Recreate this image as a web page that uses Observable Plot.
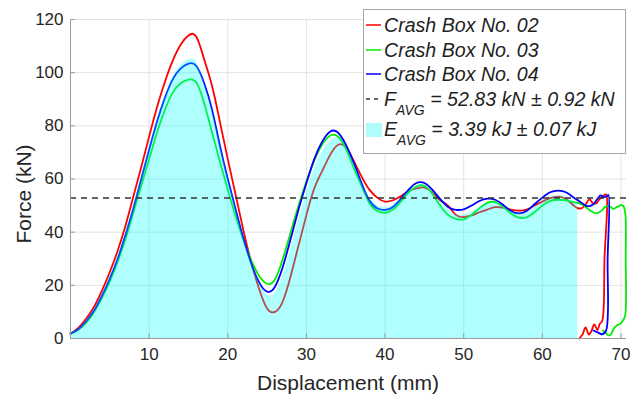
<!DOCTYPE html>
<html><head><meta charset="utf-8">
<script src="https://cdn.jsdelivr.net/npm/d3@7"></script>
<script src="https://cdn.jsdelivr.net/npm/@observablehq/plot@0.6"></script>
<style>
body{margin:0;background:#fff;}
#wrap{position:relative;width:634px;height:398px;font-family:"Liberation Sans",Arial,sans-serif;}
#legend{position:absolute;left:363px;top:9px;width:261px;height:143px;border:1px solid #a6a6a6;background:#fff;color:#1f1f1f;font-style:italic;font-size:19.6px;}
.row{position:absolute;left:0;height:24px;line-height:24px;white-space:nowrap;}
.row svg{position:absolute;left:1px;top:0}
.row .t{position:absolute;left:20px;top:0}
.sub{font-size:14px;position:relative;top:9px}
.axlabel{position:absolute;font-size:21px;color:#262626;white-space:nowrap;line-height:24px;height:24px;text-align:center;}
</style></head>
<body><div id="wrap"><div id="chart"></div><div id="legend"></div>
<div id="xlab" class="axlabel" style="left:198px;top:371px;width:300px;"></div>
<div id="ylab" class="axlabel" style="left:-126px;top:182px;width:300px;transform:rotate(-90deg);transform-origin:150px 12px;"></div>
</div>
<script>
// Displacement grid (mm) for the main part of the curves
const disp = [0,1,2,3,4,5,6,7,8,9,10,11,12,13,14,15,16,17,18,19,20,21,22,23,24,25,26,27,28,29,30,31,32,33,34,35,36,37,38,39,40,41,42,43,44,45,46,47,48,49,50,51,52,53,54,55,56,57,58,59,60,61,62,63,64,64.5];
// Force (kN)
const box02 = [1.8,4,7.5,12,18,25,33,42.5,53.5,64.5,76,87,96.5,104.5,110.5,114,113.5,105,95,81.5,67.5,54,40.5,28.5,18.5,11.3,10,14,23.5,35,46.5,56.5,63,69,72.8,72,66.9,61,56,53,51.5,52,53.5,55.5,56.5,56.8,55,52,50,46.5,45.7,46.3,47.5,48.5,49.4,49.2,48.5,48.1,48.5,50,51.5,52.8,53.4,52.5,50,49];
const box03 = [1.8,3.3,6,10,15.3,21.5,29,37.5,47.5,57.5,67.5,77.5,86,92.5,96,97.4,96.3,88.5,77.5,66.5,56,46,37,29.3,23.5,20.6,22.2,30,40,50,59,67,73,76.3,76,71.5,64.4,57.5,51,48,47.3,48.5,51.5,55,57.2,57.4,54.5,50,46.5,45,44.8,46.5,49,51,51.3,49.5,47,45.5,45.6,47.5,50,51.8,52.2,52,51.3,51];
const box04 = [1.8,3.5,6.5,10.5,16,22.5,30,39,49,60,71,81.5,90.5,97.5,101.5,103.4,102.5,96,86,72.5,60,48.5,37.5,28,21,17.6,19.5,27,37.5,48.5,58.5,67.5,74,77.8,77.5,73,66.3,58.5,52,49,48.4,49.5,52.5,56,58.5,58.5,56,52.5,49.5,48.4,48.6,50,51.7,52.6,52.2,50.3,48,47.1,48,50.5,53,55,55.6,55,53,52];
// Average curve (filled energy area)
const eAvgTop = [1.8,3.6,6.7,10.8,16.4,23,30.7,39.7,50,60.7,71.5,82,91,98.2,102.7,104.9,104.1,96.5,86.2,73.5,61.2,49.5,38.3,28.6,21,16.5,17.2,23.7,33.7,44.5,54.7,63.7,70,74.4,75.4,72.2,65.9,59,53,50,49.1,50,52.5,55.5,57.4,57.6,55.2,51.5,48.7,46.6,46.4,47.6,49.4,50.7,51,49.7,47.8,46.9,47.4,49.3,51.5,53.2,53.7,53.2,51.4,50.7];
// End parts of each test (drop and unloading)
const tail02X = [65.0,65.5,66.0,66.4,66.8,67.3,67.8,68.1,67.9,67.6,67.3,67.0,66.6,66.2,65.9,65.5,65.1,64.7];
const tail02F = [49,50.5,52.3,51,50.8,52.5,53.8,54.2,30,6.5,5.5,3.2,5.3,2.5,1.5,4.2,1.5,0];
const tail03X = [65,65.5,66,66.5,67,67.5,68,68.5,69,69.5,70,70.3,70.55,70.6,70.55,70.3,69.9,69.5,69.1,68.7,68.4,68.1,67.7];
const tail03F = [50.5,49.5,48.3,47.4,47.2,48,49.5,49.8,48.8,49.5,50.2,49.8,47,30,9,7,5.5,5,3.8,1.5,1.2,2,3];
const tail04X = [65,65.5,66,66.5,67,67.4,67.8,68.2,68.4,68.3,68.1,67.6,67.1,66.5];
const tail04F = [51,50,49.8,50.5,52.5,53.8,53.2,53.5,54,30,3,1.6,2.2,3];

const fAvg = 52.83;
const xTicks = [10,20,30,40,50,60,70];
const yTicks = [0,20,40,60,80,100,120];
const xLabel = "Displacement (mm)";
const yLabel = "Force (kN)";
const legendItems = [
  {kind:"line", color:"#ff0000", html:"Crash Box No. 02"},
  {kind:"line", color:"#00ee00", html:"Crash Box No. 03"},
  {kind:"line", color:"#0000ff", html:"Crash Box No. 04"},
  {kind:"dash", color:"#333333", html:"F<span class='sub'>AVG</span> = 52.83 kN ± 0.92 kN"},
  {kind:"fill", color:"#b0fbfb", html:"E<span class='sub'>AVG</span> = 3.39 kJ ± 0.07 kJ"}
];

const pts = (xs, fs) => xs.map((x, i) => ({x, f: fs[i]}));
const last = (xs, fs) => ({x: xs[xs.length - 1], f: fs[fs.length - 1]});
const m02 = pts(disp, box02), m03 = pts(disp, box03), m04 = pts(disp, box04);
const t02 = [last(disp, box02), ...pts(tail02X, tail02F)];
const t03 = [last(disp, box03), ...pts(tail03X, tail03F)];
const t04 = [last(disp, box04), ...pts(tail04X, tail04F)];
const dFill = pts(disp, eAvgTop);

const W = 634, H = 398, mL = 70, mR = 8, mT = 19, mB = 60;
const frameW = W - mL - mR, frameH = H - mT - mB;
const axisColor = "#9a9a9a", gridColor = "#e4e4e4";
const lineOpts = (c, curve) => ({x: "x", y: "f", stroke: c, strokeWidth: 1.8, curve});

const chart = Plot.plot({
  width: W, height: H, marginLeft: mL, marginRight: mR, marginTop: mT, marginBottom: mB,
  x: {domain: [0, 70.7]},
  y: {domain: [0, 120]},
  style: {fontFamily: '"Liberation Sans", Arial, sans-serif', fontSize: "17px", color: "#262626", background: "#fff"},
  marks: [
    Plot.ruleX(xTicks, {stroke: gridColor}),
    Plot.ruleY(yTicks, {stroke: gridColor}),
    Plot.line(m02, lineOpts("#ff0000", "natural")),
    Plot.line(t02, lineOpts("#ff0000", "catmull-rom")),
    Plot.line(m03, lineOpts("#00ee00", "natural")),
    Plot.line(t03, lineOpts("#00ee00", "catmull-rom")),
    Plot.line(m04, lineOpts("#0000ff", "natural")),
    Plot.line(t04, lineOpts("#0000ff", "catmull-rom")),
    Plot.areaY(dFill, {x: "x", y: "f", fill: "#00ffff", fillOpacity: 0.31, curve: "natural"}),
    Plot.ruleY([fAvg], {stroke: "#333", strokeWidth: 1.5, strokeDasharray: "6,5"}),
    Plot.ruleY([0], {stroke: axisColor}),
    Plot.ruleX([0], {stroke: axisColor}),
    Plot.ruleX(xTicks, {stroke: axisColor, insetTop: frameH - 5}),
    Plot.ruleY(yTicks, {stroke: axisColor, insetRight: frameW - 5}),
    Plot.axisX({ticks: xTicks, tickSize: 0, tickPadding: 9, label: null}),
    Plot.axisY({ticks: yTicks, tickSize: 0, tickPadding: 7, label: null})
  ]
});
document.getElementById("chart").appendChild(chart);
document.getElementById("xlab").textContent = xLabel;
document.getElementById("ylab").textContent = yLabel;

const centers = [15, 39.5, 64, 89, 119];
const leg = document.getElementById("legend");
legendItems.forEach((it, i) => {
  const row = document.createElement("div");
  row.className = "row";
  row.style.top = (centers[i] - 12) + "px";
  let sw = "";
  if (it.kind === "line") sw = `<svg width="18" height="24"><line x1="1" x2="16" y1="12" y2="12" stroke="${it.color}" stroke-width="1.5"/></svg>`;
  if (it.kind === "dash") sw = `<svg width="18" height="24"><line x1="1" x2="16" y1="12" y2="12" stroke="${it.color}" stroke-width="1.3" stroke-dasharray="4,4"/></svg>`;
  if (it.kind === "fill") sw = `<svg width="18" height="24"><rect x="1" y="6" width="16" height="14" fill="${it.color}"/></svg>`;
  row.innerHTML = sw + `<span class="t">${it.html}</span>`;
  leg.appendChild(row);
});
</script></body></html>
